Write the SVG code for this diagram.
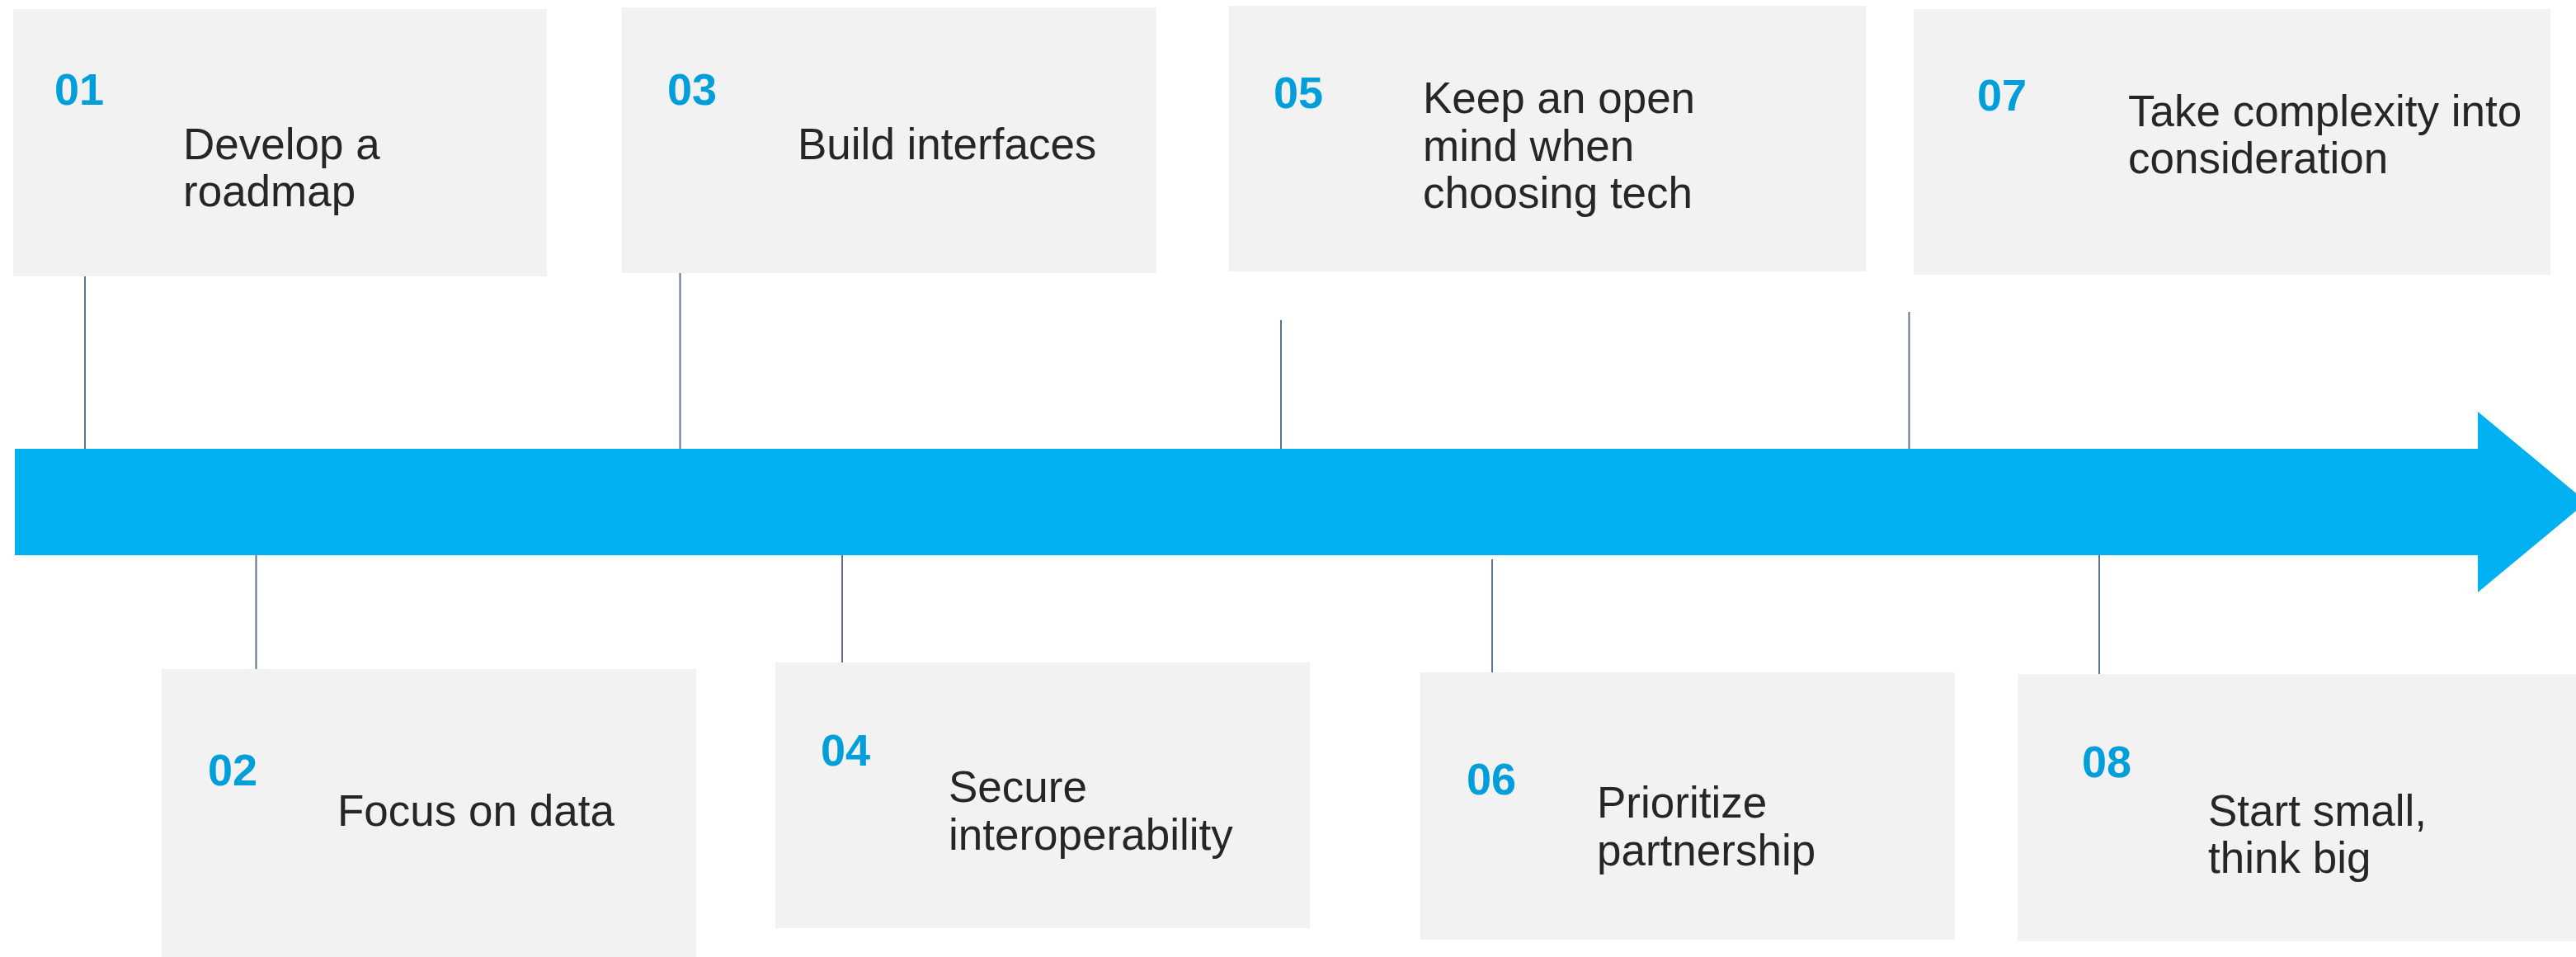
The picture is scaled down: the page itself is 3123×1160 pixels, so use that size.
<svg xmlns="http://www.w3.org/2000/svg" width="3123" height="1160" viewBox="0 0 3123 1160">
<style>
.box{fill:#F2F2F2}
.num{font-family:"Liberation Sans",Arial,sans-serif;font-weight:bold;font-size:54px;fill:#009FDB}
.lbl{font-family:"Liberation Sans",Arial,sans-serif;font-size:53px;fill:#262626}
.con{stroke:#5F7089;stroke-width:2;fill:none}
</style>
<rect width="3123" height="1160" fill="#FFFFFF"/>
<path id="timeline" d="M18,544 H3004 V499 L3136,608.5 L3004,718 V673 H18 Z" fill="#00B0F0"/>
<g id="connectors">
<line class="con" x1="103" y1="335" x2="103" y2="544"/>
<line class="con" x1="824.5" y1="331" x2="824.5" y2="544"/>
<line class="con" x1="1553" y1="388" x2="1553" y2="544"/>
<line class="con" x1="2314.5" y1="378" x2="2314.5" y2="544"/>
<line class="con" x1="310.5" y1="673" x2="310.5" y2="811"/>
<line class="con" x1="1021" y1="673" x2="1021" y2="803"/>
<line class="con" x1="1809" y1="678" x2="1809" y2="815"/>
<line class="con" x1="2545" y1="673" x2="2545" y2="817"/>
</g>
<g id="node01">
<rect class="box" x="16" y="11" width="647" height="324"/>
<text class="num" x="66" y="127">01</text>
<text class="lbl" x="222" y="193">Develop a</text>
<text class="lbl" x="222" y="250">roadmap</text>
</g>
<g id="node02">
<rect class="box" x="196" y="811" width="648" height="349"/>
<text class="num" x="252" y="952">02</text>
<text class="lbl" x="409" y="1001">Focus on data</text>
</g>
<g id="node03">
<rect class="box" x="754" y="9" width="648" height="322"/>
<text class="num" x="809" y="127">03</text>
<text class="lbl" x="967" y="193">Build interfaces</text>
</g>
<g id="node04">
<rect class="box" x="940" y="803" width="648" height="322"/>
<text class="num" x="995" y="928">04</text>
<text class="lbl" x="1150" y="972">Secure</text>
<text class="lbl" x="1150" y="1030">interoperability</text>
</g>
<g id="node05">
<rect class="box" x="1490" y="7" width="772" height="322"/>
<text class="num" x="1544" y="131">05</text>
<text class="lbl" x="1725" y="137">Keep an open</text>
<text class="lbl" x="1725" y="195">mind when</text>
<text class="lbl" x="1725" y="252">choosing tech</text>
</g>
<g id="node06">
<rect class="box" x="1722" y="815" width="648" height="324"/>
<text class="num" x="1778" y="963">06</text>
<text class="lbl" x="1936" y="991">Prioritize</text>
<text class="lbl" x="1936" y="1049">partnership</text>
</g>
<g id="node07">
<rect class="box" x="2320" y="11" width="772" height="322"/>
<text class="num" x="2397" y="134">07</text>
<text class="lbl" x="2580" y="153">Take complexity into</text>
<text class="lbl" x="2580" y="210">consideration</text>
</g>
<g id="node08">
<rect class="box" x="2446" y="817" width="677" height="324"/>
<text class="num" x="2524" y="942">08</text>
<text class="lbl" x="2677" y="1001">Start small,</text>
<text class="lbl" x="2677" y="1058">think big</text>
</g>
</svg>
